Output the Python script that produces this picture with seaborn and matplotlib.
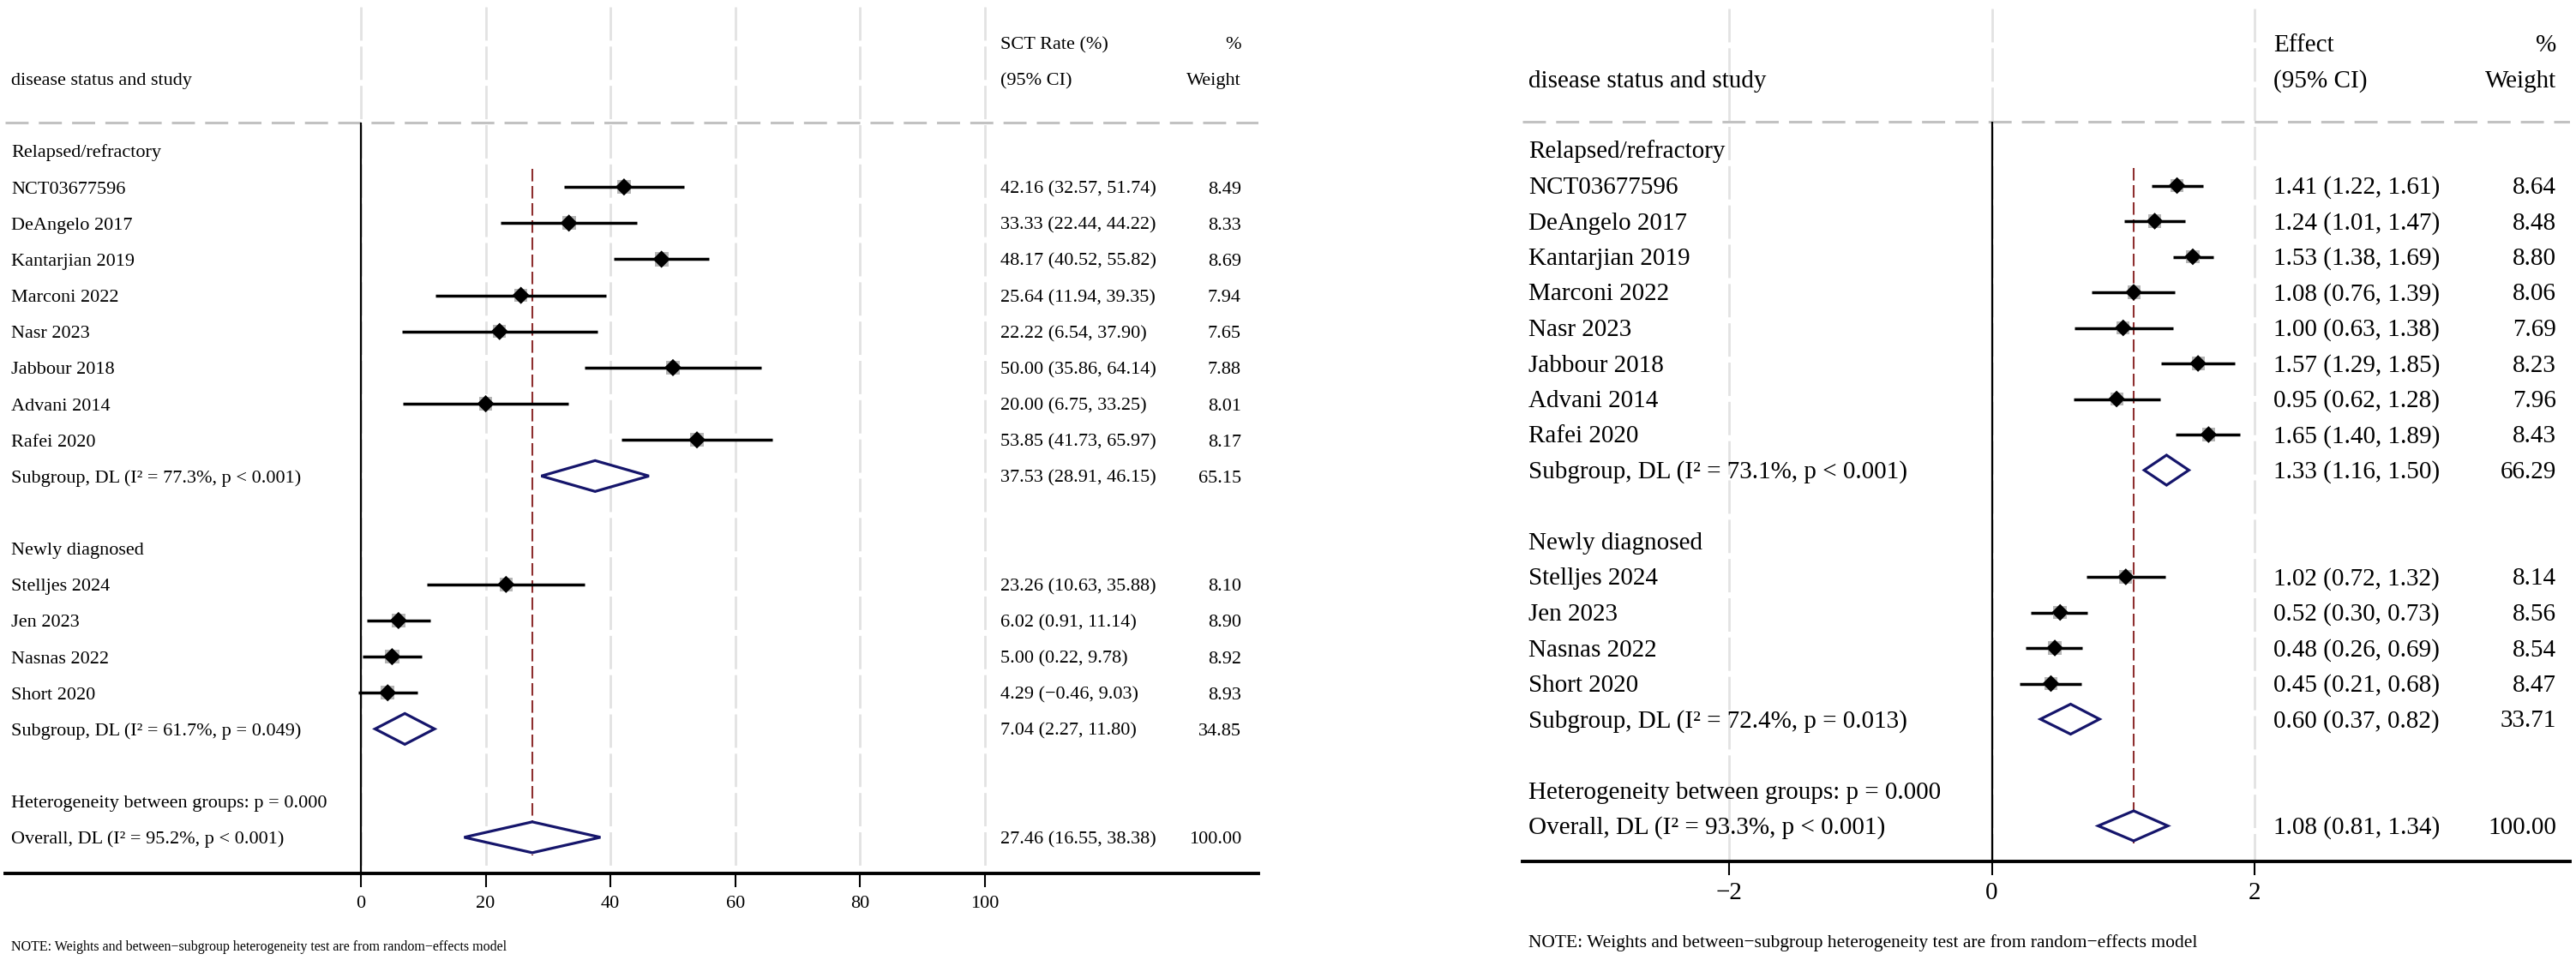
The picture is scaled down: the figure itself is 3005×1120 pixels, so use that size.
import numpy as np
import pandas as pd
import matplotlib
matplotlib.use("Agg")
import matplotlib.pyplot as plt
import seaborn as sns

# ---------------- data: left panel (SCT rate) ----------------
group_names = ["Relapsed/refractory", "Newly diagnosed"]
studies_g1 = ["NCT03677596", "DeAngelo 2017", "Kantarjian 2019", "Marconi 2022",
              "Nasr 2023", "Jabbour 2018", "Advani 2014", "Rafei 2020"]
studies_g2 = ["Stelljes 2024", "Jen 2023", "Nasnas 2022", "Short 2020"]

sct_est = [42.16, 33.33, 48.17, 25.64, 22.22, 50.00, 20.00, 53.85, 23.26, 6.02, 5.00, 4.29]
sct_lo = [32.57, 22.44, 40.52, 11.94, 6.54, 35.86, 6.75, 41.73, 10.63, 0.91, 0.22, -0.46]
sct_hi = [51.74, 44.22, 55.82, 39.35, 37.90, 64.14, 33.25, 65.97, 35.88, 11.14, 9.78, 9.03]
sct_w = [8.49, 8.33, 8.69, 7.94, 7.65, 7.88, 8.01, 8.17, 8.10, 8.90, 8.92, 8.93]
sct_sub_est = [37.53, 7.04]
sct_sub_lo = [28.91, 2.27]
sct_sub_hi = [46.15, 11.80]
sct_sub_w = [65.15, 34.85]
sct_sub_i2 = ["77.3%", "61.7%"]
sct_sub_p = ["p < 0.001", "p = 0.049"]
sct_overall = [27.46, 16.55, 38.38]
sct_overall_i2 = "95.2%"
sct_overall_p = "p < 0.001"
sct_ticks = [0, 20, 40, 60, 80, 100]

# ---------------- data: right panel (Effect) ----------------
eff_est = [1.41, 1.24, 1.53, 1.08, 1.00, 1.57, 0.95, 1.65, 1.02, 0.52, 0.48, 0.45]
eff_lo = [1.22, 1.01, 1.38, 0.76, 0.63, 1.29, 0.62, 1.40, 0.72, 0.30, 0.26, 0.21]
eff_hi = [1.61, 1.47, 1.69, 1.39, 1.38, 1.85, 1.28, 1.89, 1.32, 0.73, 0.69, 0.68]
eff_w = [8.64, 8.48, 8.80, 8.06, 7.69, 8.23, 7.96, 8.43, 8.14, 8.56, 8.54, 8.47]
eff_sub_est = [1.33, 0.60]
eff_sub_lo = [1.16, 0.37]
eff_sub_hi = [1.50, 0.82]
eff_sub_w = [66.29, 33.71]
eff_sub_i2 = ["73.1%", "72.4%"]
eff_sub_p = ["p < 0.001", "p = 0.013"]
eff_overall = [1.08, 0.81, 1.34]
eff_overall_i2 = "93.3%"
eff_overall_p = "p < 0.001"
eff_ticks = [-2, 0, 2]

het_text = "Heterogeneity between groups: p = 0.000"
note_text = "NOTE: Weights and between\u2212subgroup heterogeneity test are from random\u2212effects model"

# ---------------- style ----------------
sns.set_theme(style="white")
plt.rcParams["font.family"] = ["Liberation Serif", "DejaVu Serif"]
plt.rcParams["axes.unicode_minus"] = True

W, H = 3005, 1120
fig = plt.figure(figsize=(W / 100, H / 100), dpi=100)

NAVY = "#15156b"
RED = "#8e2f2f"
GRAYBOX = "#b5b5b5"


def fmt(v):
    return f"{v:.2f}".replace("-", "\u2212")


def draw_panel(cfg, est, lo, hi, w, sub_est, sub_lo, sub_hi, sub_w, sub_i2, sub_p,
               ov, ov_i2, ov_p, ticks, head1):
    x0p, x1p = cfg["ax_px"]
    axis_p = cfg["axis_px"]
    r0, rh = cfg["row0"], cfg["rowh"]
    zp, up = cfg["zero"], cfg["unit"]
    fs = cfg["fs"]
    ax = fig.add_axes([x0p / W, 1 - axis_p / H, (x1p - x0p) / W, axis_p / H])
    px2x = lambda p: (p - zp) / up
    ax.set_xlim(px2x(x0p), px2x(x1p))
    ybot = (axis_p - r0) / rh
    ytop = -r0 / rh
    ax.set_ylim(ybot, ytop)

    # row layout
    rows_g1 = list(range(1, 9))
    rows_g2 = list(range(12, 16))
    sub_rows = [9, 16]
    head_rows = [0, 11]
    het_row, ov_row = 18, 19
    study_rows = rows_g1 + rows_g2
    labels = studies_g1 + studies_g2

    df = pd.DataFrame({"study": labels, "row": study_rows, "est": est,
                       "lo": lo, "hi": hi, "w": w})

    # grid lines (light dashed)
    top_grid = (cfg["grid_top"] - r0) / rh
    ax.vlines(ticks, top_grid, ybot, colors="#e2e2e2", lw=2.0,
              linestyles=(0, (14, 2.5)), zorder=0)
    # header dashed line
    hdr = (cfg["hdr_px"] - r0) / rh
    ax.hlines(hdr, px2x(x0p), px2x(x1p), colors="#c2c2c2", lw=2.2,
              linestyles=(0, (8.8, 3.9)), zorder=1)
    # null line at 0
    ax.vlines(0, hdr, ybot, colors="black", lw=1.6, zorder=2)
    # overall estimate line
    ax.vlines(ov[0], 0.5, 19.5, colors=RED, lw=1.5,
              linestyles=(0, (7, 2.6)), zorder=2)

    # CI lines
    ax.hlines(df["row"], df["lo"], df["hi"], colors="black", lw=2.5, zorder=3)
    # weight boxes
    wmin, wmax = df["w"].min(), df["w"].max()
    k = cfg["box_k"]
    sns.scatterplot(data=df, x="est", y="row", size="w", sizes=(k * wmin, k * wmax),
                    size_norm=(wmin, wmax), marker="s", color=GRAYBOX,
                    edgecolor="none", linewidth=0, legend=False, ax=ax, zorder=4)
    sns.scatterplot(data=df, x="est", y="row", marker="D", s=cfg["dia_s"],
                    color="black", edgecolor="none", linewidth=0,
                    legend=False, ax=ax, zorder=5)

    # pooled diamonds
    hh = cfg["dia_h"] / rh
    for r, e, l, h in zip(sub_rows + [ov_row], sub_est + [ov[0]],
                          sub_lo + [ov[1]], sub_hi + [ov[2]]):
        ax.fill([l, e, h, e, l], [r, r - hh, r, r + hh, r], facecolor="white",
                edgecolor=NAVY, lw=2.3, zorder=6, joinstyle="miter")

    # text
    off = cfg["cap"] / 2 / rh
    xl = px2x(cfg["lab_px"])
    xc = px2x(cfg["ci_px"])
    xw = px2x(cfg["w_px"])
    tk = dict(fontsize=fs, va="baseline", color="black")
    ax.text(xc, -3 + off, head1, ha="left", **tk)
    ax.text(xw, -3 + off, "%", ha="right", **tk)
    ax.text(xl, -2 + off, "disease status and study", ha="left", **tk)
    ax.text(xc, -2 + off, "(95% CI)", ha="left", **tk)
    ax.text(xw, -2 + off, "Weight", ha="right", **tk)
    for r, g in zip(head_rows, group_names):
        ax.text(xl, r + off, g, ha="left", **tk)
    for _, rr in df.iterrows():
        ax.text(xl, rr["row"] + off, rr["study"], ha="left", **tk)
        ax.text(xc, rr["row"] + off, f"{fmt(rr['est'])} ({fmt(rr['lo'])}, {fmt(rr['hi'])})",
                ha="left", **tk)
        ax.text(xw, rr["row"] + off, fmt(rr["w"]), ha="right", **tk)
    for r, e, l, h, ww, i2, p in zip(sub_rows, sub_est, sub_lo, sub_hi, sub_w, sub_i2, sub_p):
        ax.text(xl, r + off, f"Subgroup, DL (I\u00b2 = {i2}, {p})", ha="left", **tk)
        ax.text(xc, r + off, f"{fmt(e)} ({fmt(l)}, {fmt(h)})", ha="left", **tk)
        ax.text(xw, r + off, fmt(ww), ha="right", **tk)
    ax.text(xl, het_row + off, het_text, ha="left", **tk)
    ax.text(xl, ov_row + off, f"Overall, DL (I\u00b2 = {ov_i2}, {ov_p})", ha="left", **tk)
    ax.text(xc, ov_row + off, f"{fmt(ov[0])} ({fmt(ov[1])}, {fmt(ov[2])})", ha="left", **tk)
    ax.text(xw, ov_row + off, "100.00", ha="right", **tk)

    # axes styling
    for s in ["top", "left", "right"]:
        ax.spines[s].set_visible(False)
    ax.spines["bottom"].set_linewidth(2.8)
    ax.spines["bottom"].set_color("black")
    ax.set_xticks(ticks)
    ax.set_xticklabels([str(t).replace("-", "\u2212") for t in ticks])
    ax.set_yticks([])
    ax.tick_params(axis="x", direction="out", length=11.5, width=1.5, pad=cfg["tpad"],
                   labelsize=fs, colors="black", bottom=True)
    ax.set_xlabel("")
    ax.set_ylabel("")
    ax.patch.set_alpha(0)

    # note
    fig.text(cfg["lab_px"] / W, 1 - cfg["note_px"] / H, note_text,
             fontsize=cfg["note_fs"], ha="left", va="center", color="black")
    return ax


left_cfg = dict(ax_px=(6, 1468), axis_px=1019, row0=176, rowh=42.15, zero=421, unit=7.28,
                fs=16, cap=15, lab_px=13, ci_px=1167, w_px=1448, hdr_px=143, grid_top=8,
                box_k=15.5, dia_s=105, dia_h=18, tpad=7, note_px=1105, note_fs=11.5)
right_cfg = dict(ax_px=(1776, 2998), axis_px=1005, row0=175, rowh=41.5, zero=2323.5,
                 unit=153.25, fs=21, cap=19, lab_px=1783, ci_px=2652, w_px=2982,
                 hdr_px=142, grid_top=10, box_k=14.5, dia_s=100, dia_h=17.5, tpad=6,
                 note_px=1100, note_fs=15.5)

draw_panel(left_cfg, sct_est, sct_lo, sct_hi, sct_w, sct_sub_est, sct_sub_lo, sct_sub_hi,
           sct_sub_w, sct_sub_i2, sct_sub_p, sct_overall, sct_overall_i2, sct_overall_p,
           sct_ticks, "SCT Rate (%)")
draw_panel(right_cfg, eff_est, eff_lo, eff_hi, eff_w, eff_sub_est, eff_sub_lo, eff_sub_hi,
           eff_sub_w, eff_sub_i2, eff_sub_p, eff_overall, eff_overall_i2, eff_overall_p,
           eff_ticks, "Effect")

fig.savefig("out.png", dpi=100, facecolor="white")
